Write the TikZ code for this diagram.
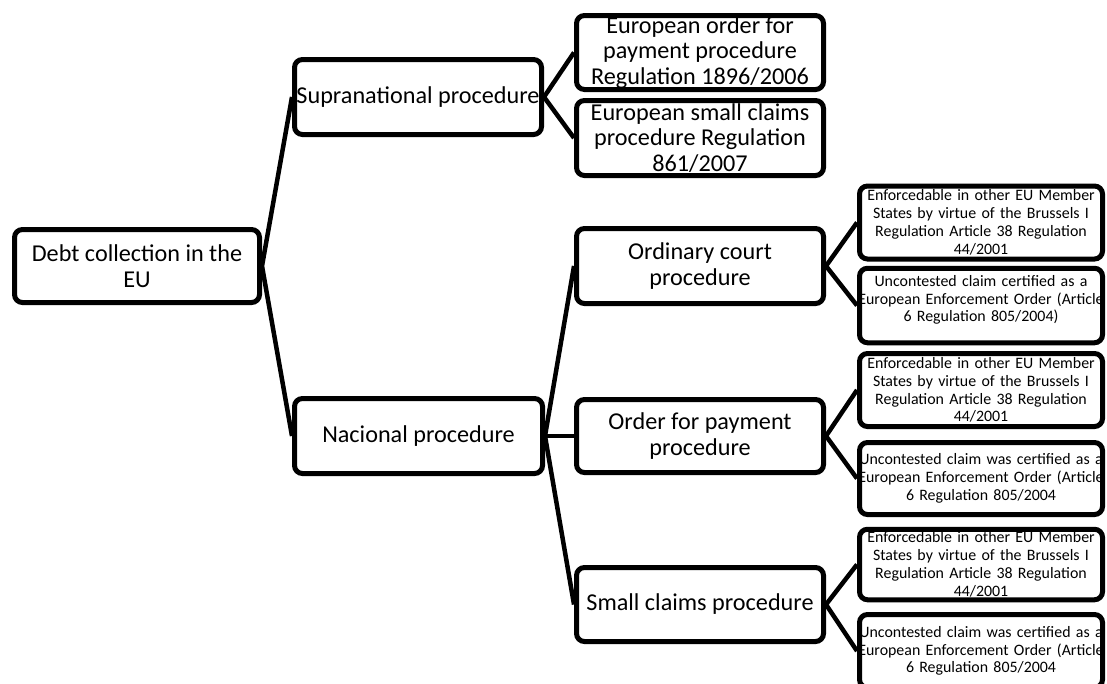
\documentclass[tikz,border=0pt]{standalone}
\usepackage{fontspec}
\setmainfont{Carlito}
% one centred line that may spill evenly over both sides of its box
\newcommand\mkline[1]{\makebox[\linewidth][c]{#1}}
\begin{document}
\begin{tikzpicture}[x=1pt,y=-1pt,
  box/.style={draw=black, line width=5pt, rounded corners=8pt, fill=white,
    inner sep=0pt, text=black, minimum width=247pt},
  big/.style={box, align=center, font=\fontsize{24.2}{25.8}\selectfont,
    minimum height=75pt},
  leaf/.style={box, text width=236pt, font=\fontsize{15.9}{17.8}\selectfont,
    minimum width=243pt, minimum height=73pt},
  link/.style={line width=4.5pt}]
\useasboundingbox (0,0) rectangle (1107,683);

% root and second level
\node[big, minimum width=245pt, minimum height=73pt] (root) at (137,266)
  {Debt collection in the\\EU};
\node[big] (supra) at (418,97) {Supranational procedure};
\node[big, minimum width=248pt] (nat) at (418.5,436) {Nacional procedure};

% supranational branch
\node[big, minimum height=74pt] (eop) at (700,52.5)
  {European order for\\payment procedure\\Regulation 1896/2006};
\node[big] (esc) at (700,138)
  {European small claims\\procedure Regulation\\861/2007};

% national branch
\node[big] (ord) at (700,266) {Ordinary court\\procedure};
\node[big, minimum height=73pt] (pay) at (700,436) {Order for payment\\procedure};
\node[big, minimum height=74pt] (small) at (700,604.5) {Small claims procedure};

% enforcement leaves
\node[leaf] (ordA) at (981,222.5)
  {\mkline{Enforcedable in other EU Member}\\\mkline{States by virtue of the Brussels I}\\
   \mkline{Regulation Article 38 Regulation}\\\mkline{44/2001}};
\node[leaf, minimum height=74.5pt] (ordB) at (981,305.5)
  {\mkline{Uncontested claim certified as a}\\\mkline{European Enforcement Order (Article}\\
   \mkline{6 Regulation 805/2004)}\\[-4pt]\mbox{}};
\node[leaf] (payA) at (981,390)
  {\mkline{Enforcedable in other EU Member}\\\mkline{States by virtue of the Brussels I}\\
   \mkline{Regulation Article 38 Regulation}\\\mkline{44/2001}};
\node[leaf, minimum height=72pt] (payB) at (981,478.5)
  {\mkline{Uncontested claim was certified as a}\\\mkline{European Enforcement Order (Article}\\
   \mkline{6 Regulation 805/2004}};
\node[leaf, minimum height=70.5pt] (smallA) at (981,564.5)
  {\mkline{Enforcedable in other EU Member}\\\mkline{States by virtue of the Brussels I}\\
   \mkline{Regulation Article 38 Regulation}\\\mkline{44/2001}};
\node[leaf] (smallB) at (981,651)
  {\mkline{Uncontested claim was certified as a}\\\mkline{European Enforcement Order (Article}\\
   \mkline{6 Regulation 805/2004}};

% connectors
\draw[link] (root.east) -- (supra.west);
\draw[link] (root.east) -- (nat.west);
\draw[link] (supra.east) -- (eop.west);
\draw[link] (supra.east) -- (esc.west);
\draw[link] (nat.east) -- (ord.west);
\draw[link] (nat.east) -- (pay.west);
\draw[link] (nat.east) -- (small.west);
\draw[link] (ord.east) -- (ordA.west);
\draw[link] (ord.east) -- (ordB.west);
\draw[link] (pay.east) -- (payA.west);
\draw[link] (pay.east) -- (payB.west);
\draw[link] (small.east) -- (smallA.west);
\draw[link] (small.east) -- (smallB.west);
\end{tikzpicture}
\end{document}
